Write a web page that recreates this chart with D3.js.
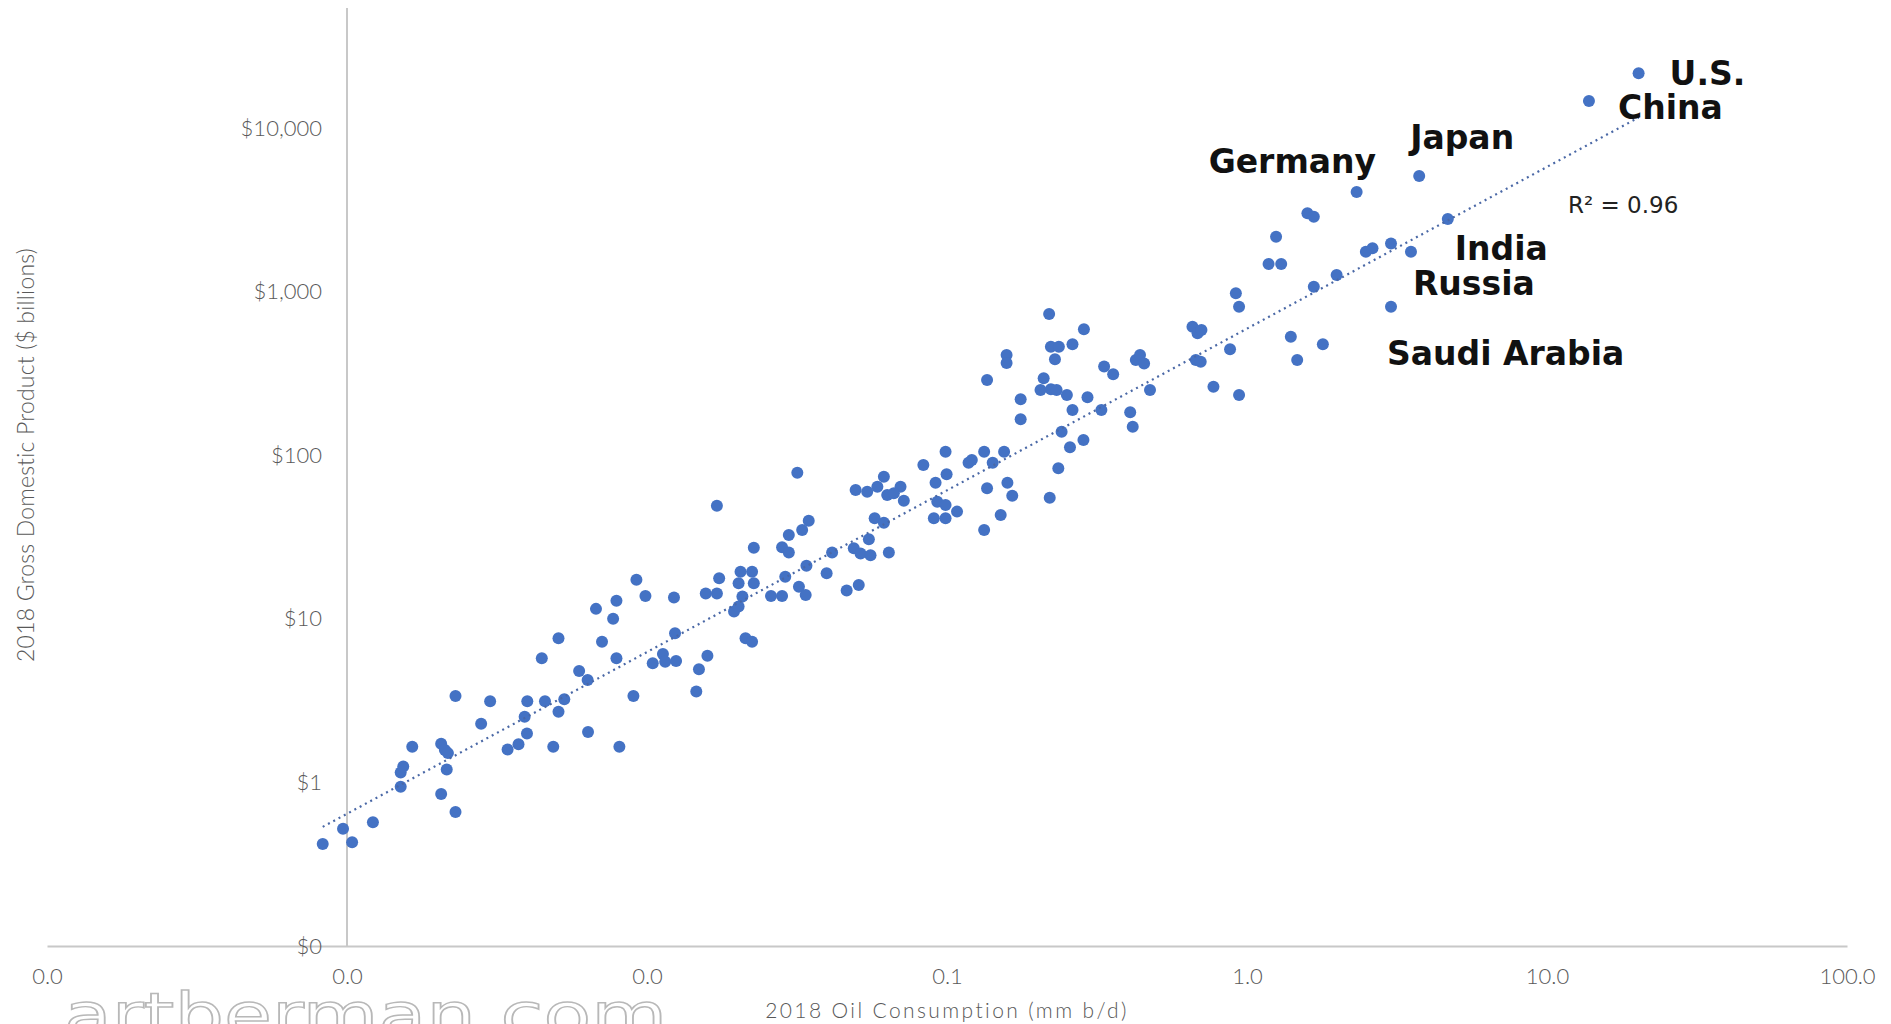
<!DOCTYPE html>
<html>
<head>
<meta charset="utf-8">
<script src="https://cdn.jsdelivr.net/npm/d3@7"></script>
<style>
  html, body { margin: 0; padding: 0; background: #ffffff; }
  svg { display: block; }
</style>
</head>
<body>
<svg id="chart" width="1891" height="1024"></svg>
<script>
// 2018 oil consumption (million barrels per day) vs. GDP ($ billions), one entry per country
const oilMbd = [
  0.00083, 0.00097, 0.00104, 0.00122, 0.00151, 0.00151, 0.00154, 0.00165, 0.00206, 0.00206,
  0.00212, 0.00217, 0.00215, 0.0023, 0.0023, 0.0028, 0.0030, 0.00343, 0.00373, 0.00391,
  0.00399, 0.00398, 0.00446, 0.00457, 0.00487, 0.00507, 0.00507, 0.0053, 0.00594, 0.00634,
  0.00636, 0.00676, 0.00708, 0.00771, 0.00791, 0.00791, 0.00809, 0.00901, 0.0146,
  0.00922, 0.00988, 0.0123, 0.01045, 0.0113, 0.0115, 0.0125, 0.0124, 0.0149, 0.0159,
  0.0157, 0.0171, 0.0171, 0.0174, 0.0195, 0.0202, 0.0208, 0.0205, 0.0224, 0.0202,
  0.0227, 0.0213, 0.0224, 0.0227, 0.0259, 0.0282, 0.0282, 0.0297, 0.0289, 0.0297,
  0.0317, 0.0321, 0.0338, 0.0329, 0.0346, 0.034, 0.0397, 0.0414, 0.0463, 0.0508,
  0.0496, 0.0489, 0.0515, 0.0549, 0.0556, 0.0574, 0.0616, 0.0542, 0.0586, 0.0616,
  0.0632, 0.070, 0.0718, 0.0665, 0.064, 0.0834, 0.133,
  0.0904, 0.0989, 0.0916, 0.0989, 0.0997, 0.0928, 0.0989, 0.108, 0.118, 0.121,
  0.133, 0.136, 0.142, 0.136, 0.151, 0.155, 0.158, 0.158, 0.159, 0.165,
  0.176, 0.176, 0.21, 0.205, 0.222, 0.232, 0.251, 0.219, 0.222, 0.236,
  0.229, 0.220, 0.235, 0.241, 0.257, 0.262, 0.262, 0.286, 0.285, 0.294,
  0.327, 0.334, 0.358, 0.408, 0.416, 0.426, 0.44, 0.454, 0.475, 0.658,
  0.684, 0.705, 0.675, 0.701, 0.773, 0.878, 0.918, 0.941, 0.941, 1.18,
  1.30, 1.25, 1.40, 1.47, 1.59, 1.67, 1.67, 1.79, 1.99, 2.49,
  2.62, 3.02
];
const gdpBn = [
  0.42, 0.52, 0.43, 0.57, 0.94, 1.15, 1.25, 1.65, 0.85, 1.72,
  1.58, 1.51, 1.2, 0.66, 3.37, 2.28, 3.13, 1.59, 1.71, 2.52,
  3.13, 1.99, 5.74, 3.13, 1.65, 7.6, 2.7, 3.22, 4.8, 4.23,
  2.03, 11.5, 7.24, 10.0, 12.9, 5.74, 1.65, 3.37, 3.6,
  17.3, 13.8, 13.5, 5.35, 6.09, 5.47, 5.52, 8.15, 4.91, 5.95,
  14.3, 14.3, 49.1, 17.7, 11.1, 11.9, 13.7, 19.4, 19.4, 16.5,
  16.5, 7.6, 7.24, 27.2, 13.8, 13.8, 27.4, 25.4, 18.1, 32.5,
  78.2, 15.7, 14.0, 34.9, 39.8, 21.1, 19.0, 25.4, 14.9, 16.1,
  61.3, 27.0, 25.1, 30.6, 24.5, 41.2, 38.7, 59.8, 64.2, 73.9,
  57.1, 64.2, 52.7, 58.5, 25.4, 87.1, 34.9,
  41.2, 41.2, 67.9, 105, 76.4, 52.0, 49.6, 45.2, 90.0, 93.5,
  105, 62.8, 90.0, 288, 43.1, 105, 410, 366, 67.9, 56.5,
  220, 166, 295, 250, 253, 250, 233, 730, 460, 460,
  386, 55.0, 83.2, 139, 112, 476, 189, 588, 124, 226,
  189, 348, 312, 183, 149, 382, 410, 364, 250, 610,
  556, 582, 382, 373, 262, 444, 976, 809, 233, 1475,
  1475, 2165, 530, 382, 3010, 2870, 1072, 476, 1263, 1750,
  1840, 1970
];

// Named economies
const majorNames = ["Germany", "Saudi Arabia", "Russia", "Japan", "India", "China", "U.S."];
const majorOil   = [2.32, 3.02, 3.52, 3.75, 4.67, 13.8, 20.2];
const majorGdp   = [4060, 809, 1750, 5090, 2780, 14600, 21600];

// Axis ticks
const xTicks = [0.0001, 0.001, 0.01, 0.1, 1, 10, 100];
const yTicks = [0.1, 1, 10, 100, 1000, 10000];

// Power trendline GDP = coef * oil^exponent, and its goodness of fit
const trendCoef = 594;
const trendExp = 0.9885;
const rSquared = 0.96;

// ---- layout ----
const W = 1891, H = 1024;
const axisColor = "#c8c8c8";
const textColor = "#595959";
const dotColor = "#4472C4";
const plotTop = 8;

// label offsets from each named point (px): [dx, dy] to the text's start/baseline
const labelOffset = {
  "U.S.": [31, 12],
  "China": [29, 18],
  "Japan": [-9, -27],
  "Germany": [-148, -19],
  "India": [7, 41],
  "Russia": [2, 43],
  "Saudi Arabia": [-4, 58]
};

const svg = d3.select("#chart");
svg.append("rect").attr("width", W).attr("height", H).attr("fill", "#ffffff");

const x = d3.scaleLog().domain([1e-4, 100]).range([47, 1847]);
const y = d3.scaleLog().domain([0.1, 10000]).range([946, 946 - 5 * 163.6]);

// watermark (wide outlined lettering)
svg.append("text")
  .attr("transform", "translate(64,1036) scale(1.3,1)")
  .style("font-family", "'DejaVu Sans', sans-serif")
  .style("font-size", "60px")
  .attr("fill", "#ffffff")
  .attr("stroke", "#b8b8b8")
  .attr("stroke-width", 1.4)
  .text("artberman.com");

// x axis (crosses at GDP = 0.1)
const xAxis = svg.append("g")
  .attr("transform", `translate(0,${y(0.1)})`)
  .call(d3.axisBottom(x)
    .tickValues(xTicks)
    .tickFormat(d3.format(".1f"))
    .tickSize(0)
    .tickPadding(22));
xAxis.select(".domain").attr("stroke", axisColor).attr("stroke-width", 2);

// y axis (crosses at oil = 0.001)
const yAxis = svg.append("g")
  .attr("transform", `translate(${x(0.001)},0)`)
  .call(d3.axisLeft(y)
    .tickValues(yTicks)
    .tickFormat(d => "$" + d3.format(",.0f")(d))
    .tickSize(0)
    .tickPadding(25));
yAxis.select(".domain").remove();
yAxis.append("line")
  .attr("x1", 0).attr("x2", 0)
  .attr("y1", y(0.1)).attr("y2", plotTop)
  .attr("stroke", axisColor).attr("stroke-width", 2);

svg.selectAll(".tick text")
  .style("font-family", "Lato, sans-serif")
  .style("font-weight", 300)
  .style("font-size", "22px")
  .attr("fill", textColor);

// axis titles
svg.append("text")
  .attr("x", 947)
  .attr("y", 1018)
  .attr("text-anchor", "middle")
  .style("font-family", "Lato, sans-serif")
  .style("font-weight", 300)
  .style("font-size", "21px")
  .style("letter-spacing", "2.4px")
  .attr("fill", textColor)
  .text("2018 Oil Consumption (mm b/d)");

svg.append("text")
  .attr("transform", "translate(34,455) rotate(-90)")
  .attr("text-anchor", "middle")
  .style("font-family", "Lato, sans-serif")
  .style("font-weight", 300)
  .style("font-size", "23px")
  .style("letter-spacing", "0.2px")
  .attr("fill", textColor)
  .text("2018 Gross Domestic Product ($ billions)");

// all points
const pts = oilMbd.map((o, i) => ({ oil: o, gdp: gdpBn[i] }))
  .concat(majorOil.map((o, i) => ({ oil: o, gdp: majorGdp[i], name: majorNames[i] })));

svg.append("g").selectAll("circle")
  .data(pts)
  .join("circle")
  .attr("cx", d => x(d.oil))
  .attr("cy", d => y(d.gdp))
  .attr("r", 6)
  .attr("fill", dotColor);

// power trendline across the data's oil range
const [xmin, xmax] = d3.extent(pts, d => d.oil);
const trend = [xmin, xmax].map(o => ({ oil: o, gdp: trendCoef * Math.pow(o, trendExp) }));

svg.append("path")
  .datum(trend)
  .attr("d", d3.line().x(d => x(d.oil)).y(d => y(d.gdp)))
  .attr("fill", "none")
  .attr("stroke", "#4a68a6")
  .attr("stroke-width", 2.2)
  .attr("stroke-dasharray", "2,4");

// country labels
svg.append("g").selectAll("text")
  .data(pts.filter(d => d.name))
  .join("text")
  .attr("x", d => x(d.oil) + labelOffset[d.name][0])
  .attr("y", d => y(d.gdp) + labelOffset[d.name][1])
  .style("font-family", "'DejaVu Sans', sans-serif")
  .style("font-weight", 700)
  .style("font-size", "33px")
  .attr("fill", "#111111")
  .text(d => d.name);

// R² annotation
svg.append("text")
  .attr("x", 1568)
  .attr("y", 213)
  .style("font-family", "'DejaVu Sans', sans-serif")
  .style("font-size", "23px")
  .attr("fill", "#222222")
  .text("R² = " + rSquared.toFixed(2));
</script>
</body>
</html>
